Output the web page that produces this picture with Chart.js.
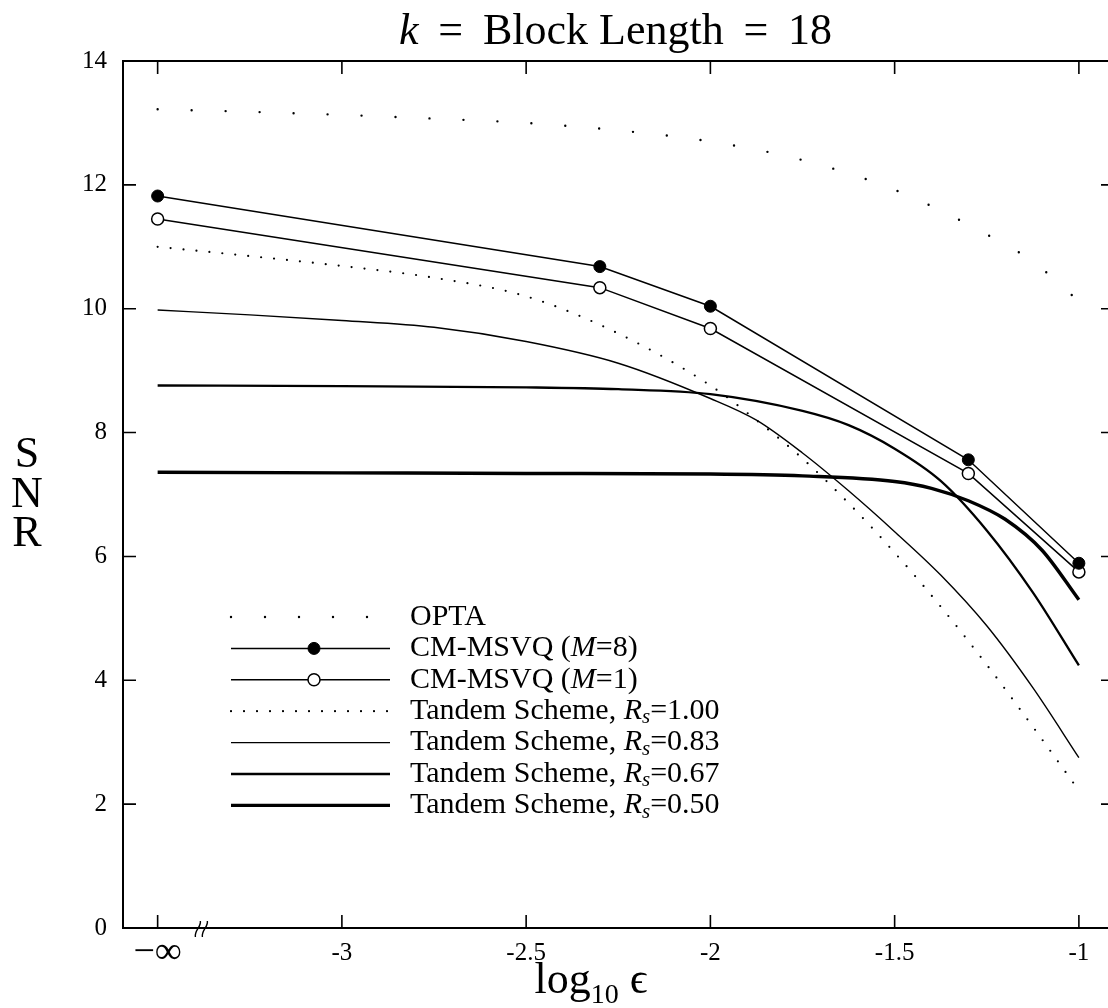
<!DOCTYPE html>
<html>
<head>
<meta charset="utf-8">
<title>SNR vs log10 eps</title>
<script src="https://cdn.jsdelivr.net/npm/chart.js@4.4.0/dist/chart.umd.min.js"></script>
<style>
  html, body { margin: 0; padding: 0; background: #fff; }
</style>
</head>
<body>
<canvas id="snr" width="1108" height="1008"></canvas>
<script>
// x is log10(eps); -3.5 is where -infinity is plotted
var xTicks = [-3.5, -3, -2.5, -2, -1.5, -1];
var xTickLabels = ['\u2212\u221e', '-3', '-2.5', '-2', '-1.5', '-1'];
var yTicks = [0, 2, 4, 6, 8, 10, 12, 14];
var breakAt = -3.38;

var optaX = [-3.5, -3.25, -3, -2.75, -2.5, -2.25, -2, -1.75, -1.5, -1.25, -1.125, -1];
var opta  = [13.22, 13.18, 13.13, 13.07, 13.0, 12.88, 12.70, 12.40, 11.92, 11.2, 10.76, 10.12];

var msvqX = [-3.5, -2.3, -2, -1.3, -1];
var msvq8 = [11.82, 10.68, 10.04, 7.56, 5.89];
var msvq1 = [11.45, 10.34, 9.68, 7.34, 5.75];

var tandX   = [-3.5, -3.25, -3, -2.75, -2.5, -2.25, -2, -1.875, -1.75, -1.625, -1.5, -1.375, -1.25, -1.125, -1];
var tand100 = [11.0, 10.85, 10.69, 10.5, 10.2, 9.6, 8.76, 8.2, 7.58, 6.86, 6.06, 5.19, 4.25, 3.25, 2.22];
var tand083 = [9.98, 9.9, 9.81, 9.7, 9.47, 9.12, 8.55, 8.2, 7.67, 7.06, 6.4, 5.7, 4.88, 3.88, 2.75];

var tand067X = [-3.5, -3, -2.5, -2.25, -2, -1.75, -1.625, -1.5, -1.375, -1.25, -1.125, -1];
var tand067  = [8.76, 8.75, 8.73, 8.7, 8.62, 8.35, 8.12, 7.74, 7.22, 6.42, 5.42, 4.24];

var tand050X = [-3.5, -3, -2.5, -2, -1.75, -1.5, -1.4, -1.3, -1.2, -1.1, -1];
var tand050  = [7.36, 7.35, 7.34, 7.33, 7.3, 7.21, 7.1, 6.9, 6.6, 6.1, 5.3];

// legend text, split so M, R and s can be set in italics
var legendLabels = [
  [{t: 'OPTA'}],
  [{t: 'CM-MSVQ ('}, {t: 'M', it: 1}, {t: '=8)'}],
  [{t: 'CM-MSVQ ('}, {t: 'M', it: 1}, {t: '=1)'}],
  [{t: 'Tandem Scheme, '}, {t: 'R', it: 1}, {t: 's', it: 1, sub: 1}, {t: '=1.00'}],
  [{t: 'Tandem Scheme, '}, {t: 'R', it: 1}, {t: 's', it: 1, sub: 1}, {t: '=0.83'}],
  [{t: 'Tandem Scheme, '}, {t: 'R', it: 1}, {t: 's', it: 1, sub: 1}, {t: '=0.67'}],
  [{t: 'Tandem Scheme, '}, {t: 'R', it: 1}, {t: 's', it: 1, sub: 1}, {t: '=0.50'}]
];

var SERIF = '"Liberation Serif", "Times New Roman", serif';

function pts(xs, ys) {
  return xs.map(function (x, i) { return {x: x, y: ys[i]}; });
}

function drawRich(ctx, parts, x, y, size) {
  parts.forEach(function (p) {
    var s = p.sub ? size * 0.7 : size;
    ctx.font = (p.it ? 'italic ' : '') + s + 'px ' + SERIF;
    ctx.fillText(p.t, x, y + (p.sub ? size * 0.22 : 0));
    x += ctx.measureText(p.t).width;
  });
  return x;
}

function richWidth(ctx, parts, size) {
  var w = 0;
  parts.forEach(function (p) {
    var s = p.sub ? size * 0.7 : size;
    ctx.font = (p.it ? 'italic ' : '') + s + 'px ' + SERIF;
    w += ctx.measureText(p.t).width;
  });
  return w;
}

var frame = {
  id: 'frame',
  afterDatasetsDraw: function (chart) {
    var ctx = chart.ctx, a = chart.chartArea;
    var xs = chart.scales.x, ys = chart.scales.y;
    ctx.save();
    ctx.strokeStyle = '#000';
    ctx.lineWidth = 2;
    ctx.beginPath();
    ctx.moveTo(a.right, a.top); ctx.lineTo(a.left, a.top);
    ctx.lineTo(a.left, a.bottom); ctx.lineTo(a.right, a.bottom);
    ctx.stroke();

    // inward ticks
    ctx.lineWidth = 1.6;
    ctx.beginPath();
    xs.ticks.forEach(function (t) {
      var px = xs.getPixelForValue(t.value);
      ctx.moveTo(px, a.top); ctx.lineTo(px, a.top + 13);
      ctx.moveTo(px, a.bottom); ctx.lineTo(px, a.bottom - 13);
    });
    ys.ticks.forEach(function (t) {
      var py = ys.getPixelForValue(t.value);
      ctx.moveTo(a.left, py); ctx.lineTo(a.left + 13, py);
      ctx.moveTo(a.right, py); ctx.lineTo(a.right - 7, py);
    });
    ctx.stroke();

    // axis break mark
    var bx = xs.getPixelForValue(breakAt);
    ctx.lineWidth = 1.4;
    [-3.5, 3.5].forEach(function (o) {
      var cx = bx + o;
      ctx.beginPath();
      ctx.moveTo(cx - 3, a.bottom + 9);
      ctx.bezierCurveTo(cx - 4, a.bottom + 2, cx + 3, a.bottom - 1, cx + 2, a.bottom - 7);
      ctx.stroke();
    });

    // legend
    var lx0 = 231, lx1 = 390, mx = 314, tx = 410, ly = 617, step = 31.4;
    chart.data.datasets.forEach(function (ds, i) {
      var y = ly + i * step;
      ctx.save();
      ctx.strokeStyle = '#000';
      ctx.lineWidth = ds.borderWidth;
      ctx.lineCap = ds.borderCapStyle || 'butt';
      ctx.setLineDash(ds.borderDash || []);
      ctx.beginPath();
      ctx.moveTo(lx0, y); ctx.lineTo(lx1, y);
      ctx.stroke();
      ctx.restore();
      if (ds.pointRadius > 0) {
        ctx.beginPath();
        ctx.arc(mx, y, ds.pointRadius, 0, Math.PI * 2);
        ctx.fillStyle = ds.pointBackgroundColor;
        ctx.fill();
        ctx.lineWidth = ds.pointBorderWidth;
        ctx.strokeStyle = '#000';
        ctx.stroke();
      }
      ctx.fillStyle = '#000';
      ctx.textAlign = 'left';
      ctx.textBaseline = 'middle';
      drawRich(ctx, legendLabels[i], tx, y, 30);
    });
    ctx.restore();
  },
  afterDraw: function (chart) {
    var ctx = chart.ctx, a = chart.chartArea;
    var cx = (a.left + a.right) / 2;
    ctx.save();
    ctx.fillStyle = '#000';
    ctx.textBaseline = 'alphabetic';
    ctx.textAlign = 'left';

    // title
    var title = [{t: 'k', it: 1}, {t: ' \u2009=\u2009 Block Length \u2009=\u2009 18'}];
    var tw = richWidth(ctx, title, 44);
    drawRich(ctx, title, cx - tw / 2, 44, 44);

    // x axis title: log10 eps
    var lx = 591;
    ctx.font = '44px ' + SERIF;
    var w1 = ctx.measureText('log').width;
    ctx.font = '28px ' + SERIF;
    var w2 = ctx.measureText('10').width;
    ctx.font = '44px ' + SERIF;
    var w3 = ctx.measureText(' \u03f5').width;
    var x0 = lx - (w1 + w2 + w3) / 2;
    ctx.font = '44px ' + SERIF;
    ctx.fillText('log', x0, 993);
    ctx.font = '28px ' + SERIF;
    ctx.fillText('10', x0 + w1, 1003);
    ctx.font = '44px ' + SERIF;
    ctx.fillText(' \u03f5', x0 + w1 + w2, 993);

    // y axis title, letters stacked
    ctx.textAlign = 'center';
    ctx.font = '44px ' + SERIF;
    ctx.fillText('S', 27, 467);
    ctx.fillText('N', 27, 507);
    ctx.fillText('R', 27, 546);
    ctx.restore();
  }
};

var thin = {borderColor: '#000', pointRadius: 0, fill: false, cubicInterpolationMode: 'monotone'};

new Chart(document.getElementById('snr'), {
  type: 'line',
  data: {
    datasets: [
      Object.assign({}, thin, {label: 'OPTA', data: pts(optaX, opta), borderWidth: 2.4,
        borderDash: [0, 34], borderCapStyle: 'round'}),
      {label: 'CM-MSVQ (M=8)', data: pts(msvqX, msvq8), borderColor: '#000', borderWidth: 1.5,
        tension: 0, pointRadius: 6, pointBackgroundColor: '#000', pointBorderColor: '#000', pointBorderWidth: 1},
      {label: 'CM-MSVQ (M=1)', data: pts(msvqX, msvq1), borderColor: '#000', borderWidth: 1.5,
        tension: 0, pointRadius: 6, pointBackgroundColor: '#fff', pointBorderColor: '#000', pointBorderWidth: 1.5},
      Object.assign({}, thin, {label: 'Tandem Scheme, Rs=1.00', data: pts(tandX, tand100), borderWidth: 2.2,
        borderDash: [0, 13], borderCapStyle: 'round'}),
      Object.assign({}, thin, {label: 'Tandem Scheme, Rs=0.83', data: pts(tandX, tand083), borderWidth: 1.4}),
      Object.assign({}, thin, {label: 'Tandem Scheme, Rs=0.67', data: pts(tand067X, tand067), borderWidth: 2.3}),
      Object.assign({}, thin, {label: 'Tandem Scheme, Rs=0.50', data: pts(tand050X, tand050), borderWidth: 3.4})
    ]
  },
  options: {
    responsive: false,
    animation: false,
    devicePixelRatio: 1,
    layout: {autoPadding: false, padding: {top: 61, right: 0, left: 0, bottom: 0}},
    plugins: {legend: {display: false}, title: {display: false}, tooltip: {enabled: false}},
    scales: {
      x: {
        type: 'linear',
        min: -3.594,
        max: -0.921,
        afterBuildTicks: function (s) { s.ticks = xTicks.map(function (v) { return {value: v}; }); },
        afterFit: function (s) { s.height = 80; s.paddingLeft = 0; s.paddingRight = 0; },
        grid: {display: false, drawTicks: false},
        border: {display: false},
        ticks: {
          autoSkip: false,
          maxRotation: 0,
          padding: 10,
          color: '#000',
          font: function (c) {
            return c.index === 0 ? {family: SERIF, size: 38, lineHeight: '30px'} : {family: SERIF, size: 25, lineHeight: '30px'};
          },
          callback: function (v, i) { return xTickLabels[i]; }
        }
      },
      y: {
        min: 0,
        max: 14,
        afterBuildTicks: function (s) { s.ticks = yTicks.map(function (v) { return {value: v}; }); },
        afterFit: function (s) { s.width = 123; s.paddingTop = 0; s.paddingBottom = 0; },
        grid: {display: false, drawTicks: false},
        border: {display: false},
        ticks: {padding: 16, color: '#000', font: {family: SERIF, size: 25}}
      }
    }
  },
  plugins: [frame]
});
</script>
</body>
</html>
